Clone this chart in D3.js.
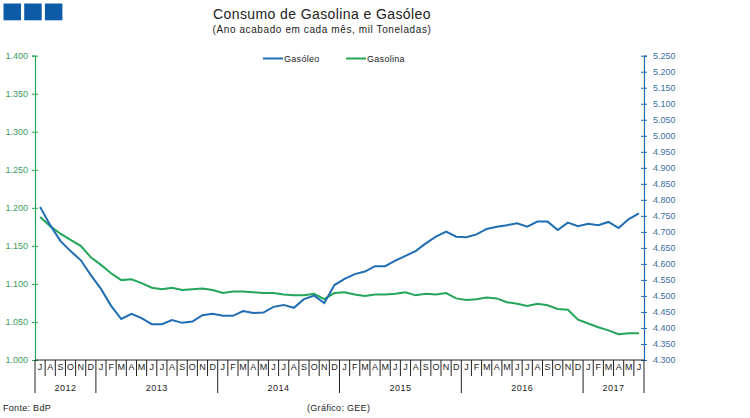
<!DOCTYPE html>
<html><head><meta charset="utf-8">
<script src="https://cdn.jsdelivr.net/npm/d3@7"></script>
<style>
html,body{margin:0;padding:0;background:#fff;}
svg text{font-family:"Liberation Sans",Arial,sans-serif;}
</style></head>
<body><svg id="c" width="750" height="418"></svg>
<script>
const monthLetters = ["J","F","M","A","M","J","J","A","S","O","N","D"];
const years = ["2012","2013","2014","2015","2016","2017"];
const startMonth = 6; // July 2012 (0-based)
const gasoleo = [4778,4721,4672,4640,4612,4565,4522,4469,4428,4444,4431,4412,
  4412,4425,4416,4420,4440,4444,4438,4438,4453,4447,4448,4466,
  4472,4463,4490,4501,4478,4534,4553,4568,4576,4593,4593,4610,
  4625,4640,4664,4685,4701,4685,4683,4692,4709,4716,4721,4727,
  4716,4732,4732,4706,4729,4718,4725,4721,4731,4712,4740,4758];
const gasolina = [1188,1176,1166,1158,1150,1135,1125,1114,1105,1106,1101,1095,
  1093,1095,1092,1093,1094,1092,1088,1090,1090,1089,1088,1088,
  1086,1085,1085,1087,1080,1088,1089,1086,1084,1086,1086,1087,
  1089,1085,1087,1086,1088,1081,1079,1080,1082,1081,1076,1074,
  1071,1074,1072,1067,1066,1053,1048,1043,1039,1034,1035,1035];
const leftTicks = [1000,1050,1100,1150,1200,1250,1300,1350,1400];
const rightTicks = d3.range(4300,5251,50);
const seriesNames = ["Gasóleo","Gasolina"];

const blue = "#1f6db2", green = "#24a55a";
const svg = d3.select("#c");
const L = 35, R = 644, T = 55.7, B = 360;
const n = gasoleo.length;
const idx = d3.range(n);
const x = d3.scaleBand().domain(idx).range([L,R]).padding(0);
const bw = x.bandwidth();
const yL = d3.scaleLinear().domain([1000,1400]).range([B,T]);
const yR = d3.scaleLinear().domain([4300,5250]).range([B,T]);
const loc = d3.formatLocale({decimal:",",thousands:".",grouping:[3],currency:["",""]});
const fmt = loc.format(",d");

// logo
svg.selectAll("rect.logo").data([0,1,2]).enter().append("rect")
  .attr("x",d=>3.5+d*20.7).attr("y",3.5).attr("width",17.5).attr("height",16.8).attr("fill","#0d5aa7");

// titles
svg.append("text").attr("x",322).attr("y",19).attr("text-anchor","middle")
  .attr("font-size",14).attr("letter-spacing",0.4).attr("fill","#222").text("Consumo de Gasolina e Gasóleo");
svg.append("text").attr("x",322).attr("y",33).attr("text-anchor","middle")
  .attr("font-size",10).attr("letter-spacing",0.6).attr("fill","#222").text("(Ano acabado em cada mês, mil Toneladas)");

// legend
const leg = [{x:263,c:blue,t:seriesNames[0]},{x:346,c:green,t:seriesNames[1]}];
leg.forEach(l=>{
  svg.append("line").attr("x1",l.x).attr("x2",l.x+20).attr("y1",58.5).attr("y2",58.5)
    .attr("stroke",l.c).attr("stroke-width",2);
  svg.append("text").attr("x",l.x+21).attr("y",61.5).attr("font-size",9).attr("letter-spacing",0.3).attr("fill","#222").text(l.t);
});

// left axis
const gl = svg.append("g").attr("transform",`translate(${L},0)`)
  .call(d3.axisLeft(yL).tickValues(leftTicks).tickFormat(fmt).tickSize(3).tickPadding(4));
gl.select(".domain").attr("stroke",green).attr("stroke-width",1.2);
gl.selectAll(".tick line").attr("stroke",green).attr("x1",3).attr("x2",-3);
gl.selectAll(".tick text").attr("fill","#3d9c5f").attr("font-size",9).attr("font-family","Liberation Sans, Arial");

// right axis
const gr = svg.append("g").attr("transform",`translate(${R},0)`)
  .call(d3.axisRight(yR).tickValues(rightTicks).tickFormat(fmt).tickSize(3).tickPadding(6));
gr.select(".domain").attr("stroke",blue).attr("stroke-width",1.2);
gr.selectAll(".tick line").attr("stroke",blue).attr("x1",-3).attr("x2",3);
gr.selectAll(".tick text").attr("fill","#3b6f9e").attr("font-size",9).attr("font-family","Liberation Sans, Arial");

// bottom axis
svg.append("line").attr("x1",L).attr("x2",R).attr("y1",B).attr("y2",B).attr("stroke","#222").attr("stroke-width",1);
const bounds = d3.range(n+1);
svg.selectAll("line.sep").data(bounds).enter().append("line")
  .attr("x1",i=>L+i*bw).attr("x2",i=>L+i*bw).attr("y1",B)
  .attr("y2",i=>(i===0||i===n||(i+startMonth)%12===0)?393:376)
  .attr("stroke","#222").attr("stroke-width",1);
const gb = svg.append("g").attr("transform",`translate(0,${B})`)
  .call(d3.axisBottom(x).tickSize(0).tickPadding(4).tickFormat(i=>monthLetters[(i+startMonth)%12]));
gb.select(".domain").remove();
gb.selectAll(".tick text").attr("font-size",9).attr("fill","#222").attr("font-family","Liberation Sans, Arial");
years.forEach((yr,k)=>{
  const s = k===0?0:(12*k-startMonth);
  const e = Math.min(n, 12*(k+1)-startMonth);
  svg.append("text").attr("x",L+(s+e)/2*bw).attr("y",391).attr("text-anchor","middle")
    .attr("font-size",9).attr("letter-spacing",0.5).attr("fill","#222").text(yr);
});

// lines
const lineR = d3.line().x((d,i)=>x(i)+bw/2).y(d=>yR(d));
const lineL = d3.line().x((d,i)=>x(i)+bw/2).y(d=>yL(d));
svg.append("path").datum(gasolina).attr("d",lineL).attr("fill","none").attr("stroke",green).attr("stroke-width",2);
svg.append("path").datum(gasoleo).attr("d",lineR).attr("fill","none").attr("stroke",blue).attr("stroke-width",2);

// footer
svg.append("text").attr("x",3).attr("y",411).attr("font-size",9).attr("letter-spacing",0.3).attr("fill","#222").text("Fonte: BdP");
svg.append("text").attr("x",307).attr("y",411).attr("font-size",9).attr("letter-spacing",0.3).attr("fill","#222").text("(Gráfico: GEE)");
</script></body></html>
